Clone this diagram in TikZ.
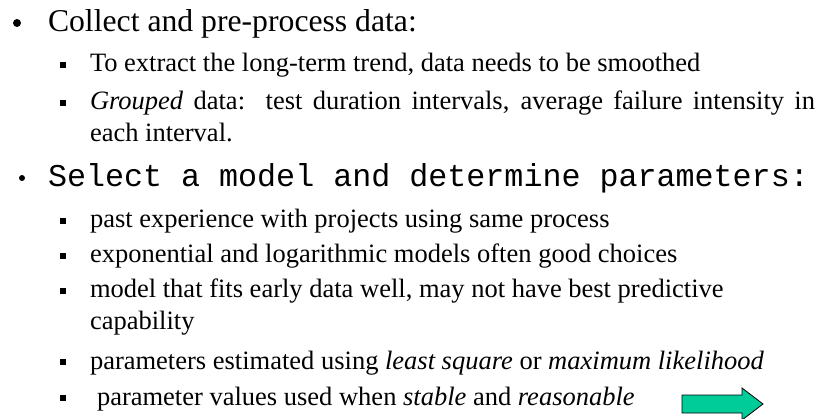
\documentclass[tikz,border=0pt]{standalone}
\usepackage{fontspec}
\setmainfont{Liberation Serif}
\setmonofont{Liberation Mono}
\usetikzlibrary{arrows.meta, positioning}
\definecolor{arrowgreen}{HTML}{00CC99}
\newcommand{\bigsize}{\fontsize{31.7}{38}\selectfont}
\newcommand{\subsize}{\fontsize{26.5}{32}\selectfont}

\begin{document}
\begin{tikzpicture}[
  x=1pt, y=-1pt,
  every node/.style={inner sep=0pt, outer sep=0pt},
  item/.style={anchor=base west, font=\bigsize},
  subitem/.style={anchor=base west, font=\subsize},
  dot/.style={circle, fill=black, minimum size=8pt},
  sq/.style={rectangle, fill=black, minimum size=6pt}
]
  \useasboundingbox (0,0) rectangle (821,419);

  % first point
  \node[dot] (d1) at (17,23) {};
  \node[item] (l1) at (48,32) {Collect and pre-process data:};
  \node[subitem] (l2) at (90,72) {To extract the long-term trend, data needs to be smoothed};
  \node[subitem] (l3) at (90,110)
    {\makebox[725pt][s]{\textit{Grouped} data:\ \ test duration intervals, average failure intensity in}};
  \node[subitem] (l4) at (90,142) {each interval.};

  % second point
  \node[dot, minimum size=6pt] (d2) at (22,178) {};
  \node[item, font=\bigsize\ttfamily] (l5) at (48,187) {Select a model and determine parameters:};
  \node[subitem] (l6) at (90,228) {past experience with projects using same process};
  \node[subitem] (l7) at (90,263) {exponential and logarithmic models often good choices};
  \node[subitem] (l8) at (90,298) {model that fits early data well, may not have best predictive};
  \node[subitem] (l9) at (90,330) {capability};
  \node[subitem] (l10) at (90,369)
    {parameters estimated using \textit{least square} or \textit{maximum likelihood}};
  \node[subitem] (l11) at (97,405)
    {parameter values used when \textit{stable} and \textit{reasonable}};

  \foreach \y in {65,103,221,256,291,362,398}
    \node[sq] (sq\y) at (63,\y) {};

  % block arrow
  \draw[fill=arrowgreen, line width=0.8pt]
    (682,395) -- (742,395) -- (742,388) -- (763,404)
    -- (742,420) -- (742,413) -- (682,413) -- cycle;
\end{tikzpicture}
\end{document}
